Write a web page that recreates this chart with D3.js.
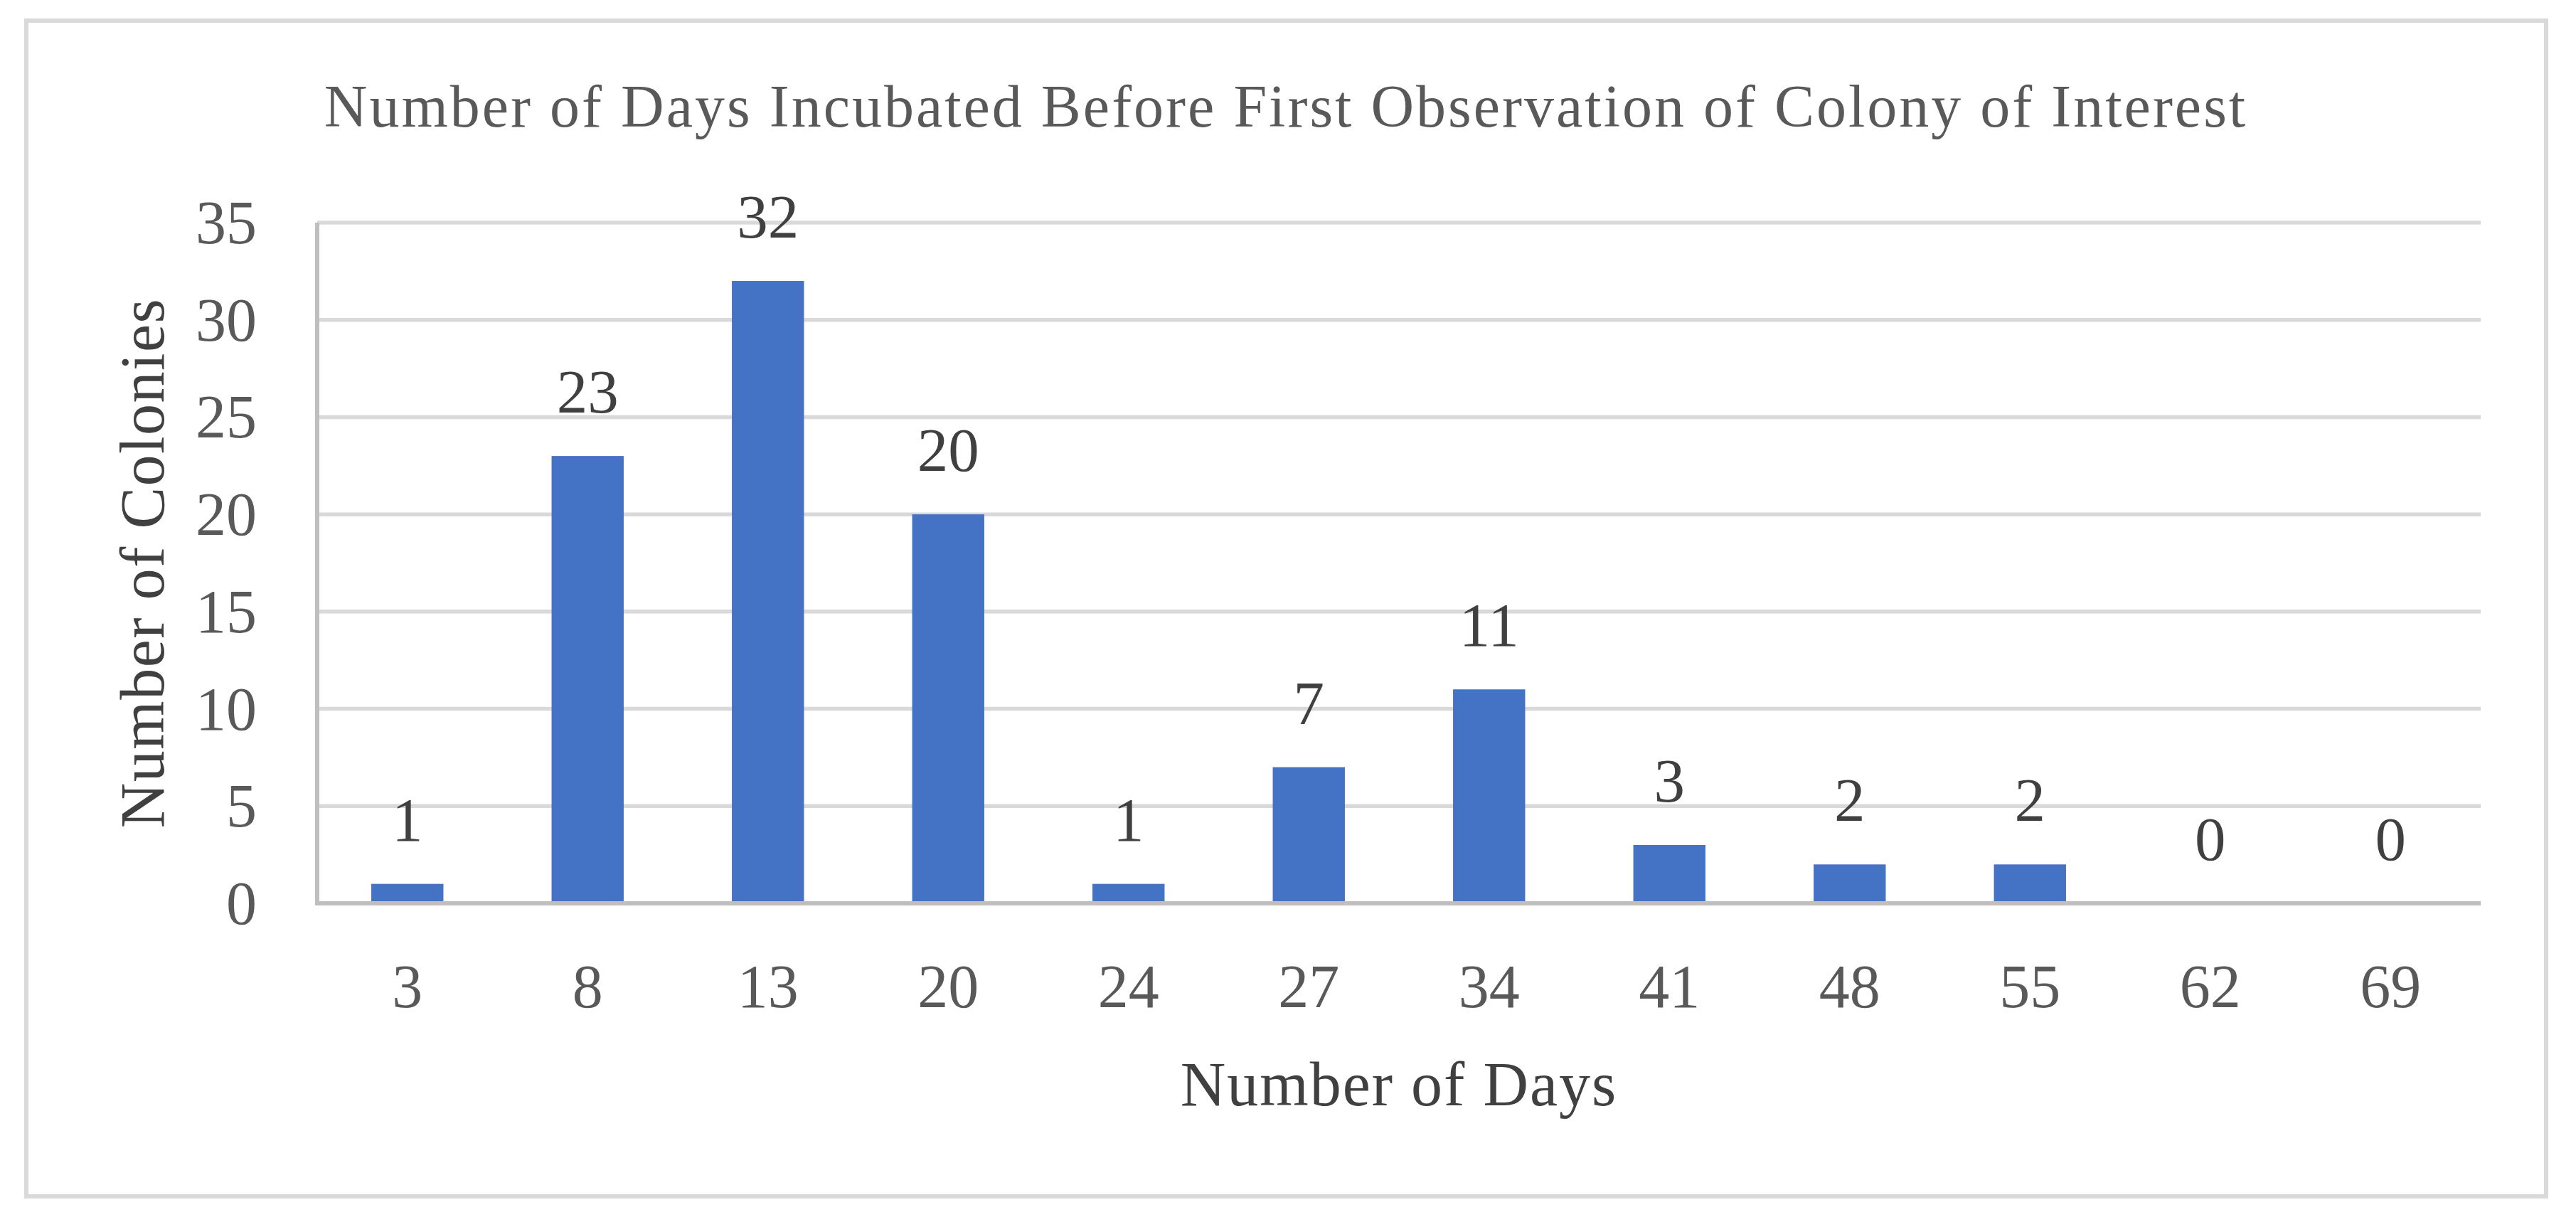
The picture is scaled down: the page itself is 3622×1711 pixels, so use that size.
<!DOCTYPE html>
<html>
<head>
<meta charset="utf-8">
<script src="https://cdn.jsdelivr.net/npm/d3@7"></script>
<style>
  html, body { margin: 0; padding: 0; background: #fff; }
  svg { display: block; }
  text { font-family: "Palatino Linotype", "Book Antiqua", Palatino, "Liberation Serif", serif; }
</style>
</head>
<body>
<svg id="chart"></svg>
<script>
const days = ['3', '8', '13', '20', '24', '27', '34', '41', '48', '55', '62', '69'];
const colonies = [1, 23, 32, 20, 1, 7, 11, 3, 2, 2, 0, 0];
const yTicks = [0, 5, 10, 15, 20, 25, 30, 35];

const chartTitle = 'Number of Days Incubated Before First Observation of Colony of Interest';
const xTitle = 'Number of Days';
const yTitle = 'Number of Colonies';

function drawChart(){

    const width = 3622;
    const height = 1711;
    const barColor = '#4472c4';
    const gridColor = '#d9d9d9';
    const axisColor = '#bfbfbf';

    const svg = d3.select('#chart')
        .attr('width', width)
        .attr('height', height);

    // chart border
    svg.append('rect')
        .attr('x', 37)
        .attr('y', 29)
        .attr('width', 3580 - 37)
        .attr('height', 1682 - 29)
        .attr('fill', '#fff')
        .attr('stroke', gridColor)
        .attr('stroke-width', 6);

    const plot = { left: 446, right: 3488, top: 313, bottom: 1270 };

    const x = d3.scaleBand()
        .domain(days)
        .range([plot.left, plot.right])
        .paddingInner(0.6)
        .paddingOuter(0.3);

    const y = d3.scaleLinear()
        .domain([0, 35])
        .range([plot.bottom, plot.top]);

    // gridlines
    svg.append('g')
        .selectAll('line')
        .data(yTicks.filter(d => d > 0))
        .join('line')
        .attr('x1', plot.left)
        .attr('x2', plot.right)
        .attr('y1', d => y(d))
        .attr('y2', d => y(d))
        .attr('stroke', gridColor)
        .attr('stroke-width', 5.5);

    // bars
    svg.append('g')
        .selectAll('rect')
        .data(colonies)
        .join('rect')
        .attr('x', (d, i) => x(days[i]))
        .attr('y', d => y(d))
        .attr('width', x.bandwidth())
        .attr('height', d => y(0) - y(d))
        .attr('fill', barColor);

    // axis lines
    svg.append('line')
        .attr('x1', plot.left)
        .attr('x2', plot.left)
        .attr('y1', y(35))
        .attr('y2', y(0) + 3)
        .attr('stroke', axisColor)
        .attr('stroke-width', 6);

    svg.append('line')
        .attr('x1', plot.left)
        .attr('x2', plot.right)
        .attr('y1', y(0))
        .attr('y2', y(0))
        .attr('stroke', axisColor)
        .attr('stroke-width', 6);

    // y tick labels
    svg.append('g')
        .selectAll('text')
        .data(yTicks)
        .join('text')
        .attr('x', 361)
        .attr('y', d => y(d) + 29)
        .attr('text-anchor', 'end')
        .style('font-size', '86px')
        .style('fill', '#595959')
        .text(d => d);

    // x tick labels
    svg.append('g')
        .selectAll('text')
        .data(days)
        .join('text')
        .attr('x', d => x(d) + x.bandwidth() / 2)
        .attr('y', 1416)
        .attr('text-anchor', 'middle')
        .style('font-size', '86px')
        .style('fill', '#595959')
        .text(d => d);

    // data labels
    svg.append('g')
        .selectAll('text')
        .data(colonies)
        .join('text')
        .attr('x', (d, i) => x(days[i]) + x.bandwidth() / 2)
        .attr('y', d => y(d) - 61)
        .attr('text-anchor', 'middle')
        .style('font-size', '87px')
        .style('fill', '#404040')
        .text(d => d);

    // titles
    svg.append('text')
        .attr('x', 1808)
        .attr('y', 178)
        .attr('text-anchor', 'middle')
        .style('font-size', '84px')
        .style('letter-spacing', '3px')
        .style('fill', '#595959')
        .text(chartTitle);

    svg.append('text')
        .attr('x', (plot.left + plot.right) / 2)
        .attr('y', 1554)
        .attr('text-anchor', 'middle')
        .style('font-size', '88px')
        .style('letter-spacing', '2px')
        .style('fill', '#404040')
        .text(xTitle);

    svg.append('text')
        .attr('transform', 'translate(230,' + ((plot.top + plot.bottom) / 2) + ') rotate(-90)')
        .attr('text-anchor', 'middle')
        .style('font-size', '88px')
        .style('letter-spacing', '1.5px')
        .style('fill', '#404040')
        .text(yTitle);
}

drawChart();
</script>
</body>
</html>
